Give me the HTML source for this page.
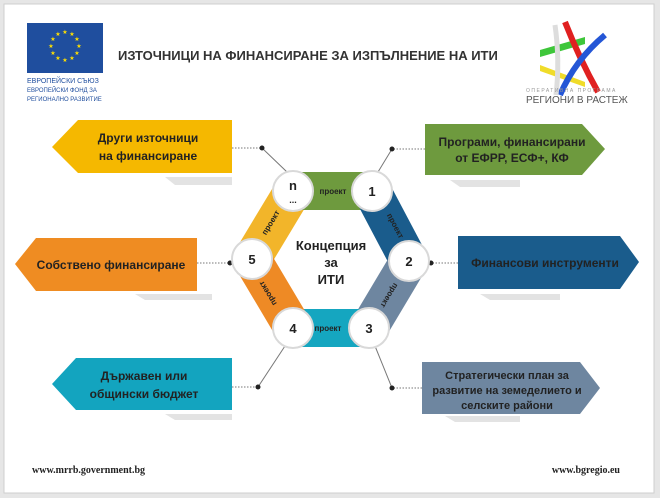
<!DOCTYPE html>
<html><head><meta charset="utf-8"><style>
html,body{margin:0;padding:0;background:#e6e6e6;}
svg{display:block;font-family:"Liberation Sans",sans-serif;}
</style></head><body>
<svg width="660" height="498" viewBox="0 0 660 498" xmlns="http://www.w3.org/2000/svg">
<rect x="0" y="0" width="660" height="498" fill="#e6e6e6"/>
<rect x="4" y="4" width="650" height="489" fill="#fff" stroke="#cfcfcf"/>
<rect x="27" y="23" width="76" height="50" fill="#1F4E9E"/>
<g fill="#FFE000" font-size="6" text-anchor="middle">
<text x="65" y="34">★</text><text x="72" y="36">★</text><text x="77" y="41">★</text><text x="79" y="48">★</text><text x="77" y="55">★</text><text x="72" y="60">★</text><text x="65" y="62">★</text><text x="58" y="60">★</text><text x="53" y="55">★</text><text x="51" y="48">★</text><text x="53" y="41">★</text><text x="58" y="36">★</text>
</g>
<g font-size="7" fill="#1F4E9E"><text x="27" y="83">ЕВРОПЕЙСКИ СЪЮЗ</text><text x="27" y="92" font-size="6">ЕВРОПЕЙСКИ ФОНД ЗА</text><text x="27" y="101" font-size="6">РЕГИОНАЛНО РАЗВИТИЕ</text></g>
<text x="118" y="60" font-size="13" font-weight="bold" fill="#333">ИЗТОЧНИЦИ НА ФИНАНСИРАНЕ ЗА ИЗПЪЛНЕНИЕ НА ИТИ</text>
<path d="M540 50 L585 37 L585 44 L540 57Z" fill="#3EC63A"/>
<path d="M540 65 L585 82 L585 87 L540 71Z" fill="#F0DC2A"/>
<path d="M565 22 Q580 60 598 92" stroke="#E02020" stroke-width="6" fill="none"/>
<path d="M605 35 Q575 60 560 95" stroke="#2456D6" stroke-width="6" fill="none"/>
<path d="M555 25 Q560 60 556 95" stroke="#ddd" stroke-width="5" fill="none"/>
<text x="526" y="92" font-size="5" fill="#999" letter-spacing="1.5">ОПЕРАТИВНА ПРОГРАМА</text>
<text x="526" y="103" font-size="10" fill="#555">РЕГИОНИ В РАСТЕЖ</text>
<g fill="#e3e3e3"><path d="M165 177 H232 V185 H175Z"/><path d="M450 180 H520 V187 H460Z"/><path d="M135 294 H212 V300 H145Z"/><path d="M480 294 H560 V300 H490Z"/><path d="M165 414 H232 V420 H175Z"/><path d="M445 416 H520 V422 H455Z"/></g>
<path d="M78 120 H232 V173 H78 L52 147Z" fill="#F5B800"/>
<path d="M425 124 H582 L605 149 L582 175 H425Z" fill="#6E9A3E"/>
<path d="M36 238 H197 V291 H36 L15 264Z" fill="#EF8C22"/>
<path d="M458 236 H620 L639 262 L620 289 H458Z" fill="#1A5C8C"/>
<path d="M76 358 H232 V410 H76 L52 384Z" fill="#13A4BF"/>
<path d="M422 362 H580 L600 388 L580 414 H422Z" fill="#6E86A0"/>
<g font-weight="bold" fill="#222" font-size="12" text-anchor="middle">
<text x="148" y="142">Други източници</text><text x="148" y="160">на финансиране</text>
<text x="512" y="146">Програми, финансирани</text><text x="512" y="162">от ЕФРР, ЕСФ+, КФ</text>
<text x="111" y="269">Собствено финансиране</text>
<text x="545" y="267">Финансови инструменти</text>
<text x="144" y="380">Държавен или</text><text x="144" y="398">общински бюджет</text>
<g font-size="11"><text x="507" y="379">Стратегически план за</text><text x="507" y="394">развитие на земеделието и</text><text x="507" y="409">селските райони</text></g>
</g>
<g stroke="#777" stroke-width="1" fill="none">
<path d="M232 148 H262" stroke-dasharray="1.5 1.5"/><path d="M262 148 L287 172"/>
<path d="M425 149 H392" stroke-dasharray="1.5 1.5"/><path d="M392 149 L378 172"/>
<path d="M197 263 H230" stroke-dasharray="1.5 1.5"/>
<path d="M458 263 H431" stroke-dasharray="1.5 1.5"/>
<path d="M232 387 H258" stroke-dasharray="1.5 1.5"/><path d="M258 387 L285 346"/>
<path d="M422 388 H392" stroke-dasharray="1.5 1.5"/><path d="M392 388 L375 346"/>
</g>
<g fill="#222"><circle cx="262" cy="148" r="2.5"/><circle cx="392" cy="149" r="2.5"/><circle cx="230" cy="263" r="2.5"/><circle cx="431" cy="263" r="2.5"/><circle cx="258" cy="387" r="2.5"/><circle cx="392" cy="388" r="2.5"/></g>
<g stroke-width="38" stroke-linecap="round" fill="none">
<path d="M252 259 L293 191" stroke="#F2B52A"/>
<path d="M293 191 L372 191" stroke="#6E9A3E"/>
<path d="M372 191 L409 261" stroke="#1A5C8C"/>
<path d="M409 261 L369 328" stroke="#6E86A0"/>
<path d="M369 328 L293 328" stroke="#15A6C0"/>
<path d="M293 328 L252 259" stroke="#EE8A25"/>
</g>
<g fill="#fff" stroke="#d9d9d9" stroke-width="2">
<circle cx="293" cy="191" r="20"/><circle cx="372" cy="191" r="20"/><circle cx="409" cy="261" r="20"/><circle cx="369" cy="328" r="20"/><circle cx="293" cy="328" r="20"/><circle cx="252" cy="259" r="20"/>
</g>
<g font-weight="bold" fill="#222" text-anchor="middle" font-size="13">
<text x="293" y="190">n</text><text x="293" y="203" font-size="9">...</text>
<text x="372" y="196">1</text><text x="409" y="266">2</text><text x="369" y="333">3</text><text x="293" y="333">4</text><text x="252" y="264">5</text>
<text x="331" y="250">Концепция</text><text x="331" y="267">за</text><text x="331" y="284">ИТИ</text>
</g>
<g font-weight="bold" fill="#222" text-anchor="middle" font-size="8">
<text x="333" y="194">проект</text>
<text x="328" y="331">проект</text>
<text transform="translate(393,227) rotate(62)">проект</text>
<text transform="translate(387,294) rotate(121)">проект</text>
<text transform="translate(270,292) rotate(239)">проект</text>
<text transform="translate(273,224) rotate(-59)">проект</text>
</g>
<g font-family="Liberation Serif,serif" font-weight="bold" font-size="10" fill="#222">
<text x="32" y="473">www.mrrb.government.bg</text>
<text x="620" y="473" text-anchor="end">www.bgregio.eu</text>
</g>
</svg>
</body></html>
